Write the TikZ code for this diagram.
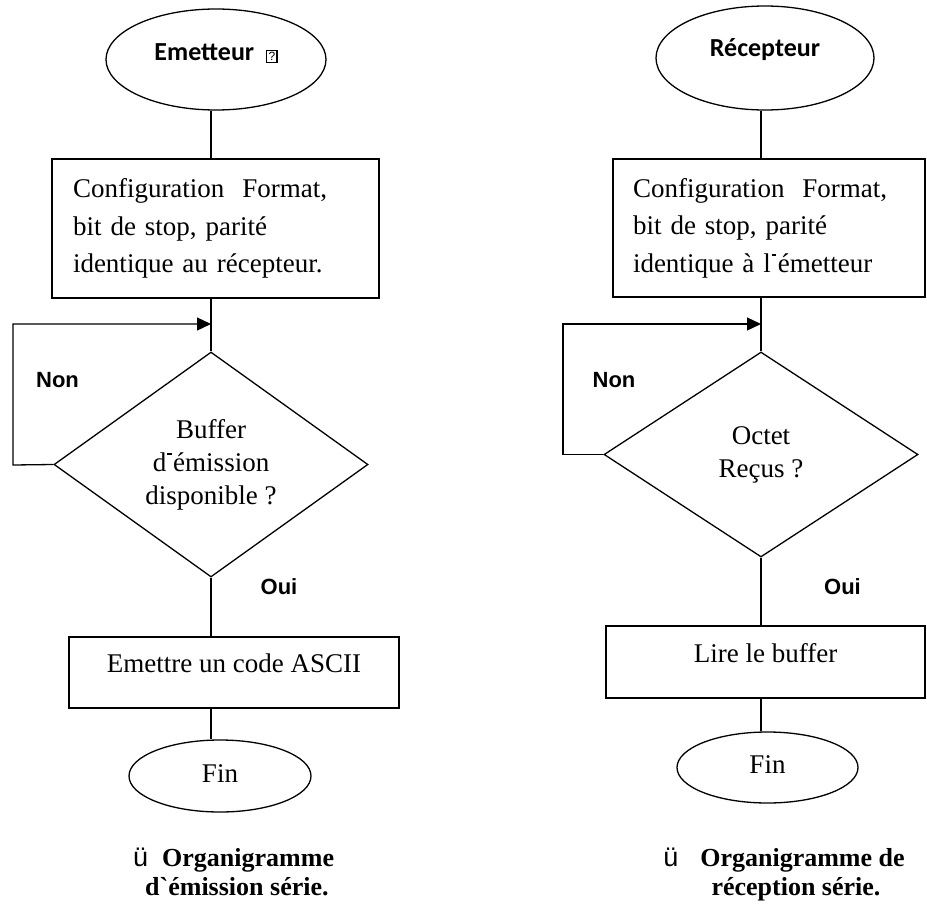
\documentclass[tikz,border=0pt]{standalone}
\usepackage{fontspec}
\setmainfont{Liberation Serif}
\newfontfamily\headfont{Carlito}
\newfontfamily\labfont{Liberation Sans}
\usetikzlibrary{shapes.geometric,arrows.meta}

% small framed question mark after the title
\newcommand\qmarkbox{{\setlength\fboxsep{1.2pt}\setlength\fboxrule{1.1pt}%
  \fbox{\labfont\fontsize{12pt}{12pt}\selectfont\mdseries ?}}}
% short raised stroke used as apostrophe
\newcommand\aposmark{\kern1pt\rule[16pt]{4.5pt}{1.8pt}\kern1.5pt}
% list mark before the captions
\newcommand\capmark{{\labfont\mdseries\fontsize{27pt}{27pt}\selectfont ü}}

\tikzset{
  flow/.style={draw, line width=1.3pt},
  txt/.style={font=\fontsize{27pt}{37.5pt}\selectfont},
  endcap/.style={flow, ellipse, inner sep=0pt},
  title/.style={endcap, font=\headfont\bfseries\fontsize{26pt}{30pt}\selectfont},
  finbox/.style={endcap, txt},
  procbox/.style={flow, rectangle, inner sep=0pt, txt},
  testbox/.style={flow, diamond, inner sep=0pt, txt, align=center,
    font=\fontsize{27pt}{33pt}\selectfont},
  answer/.style={font=\labfont\bfseries\fontsize{22pt}{26pt}\selectfont, inner sep=0pt},
  caption/.style={font=\bfseries\fontsize{26pt}{29pt}\selectfont, inner sep=0pt},
  link/.style={line width=1.3pt},
  loop/.style={line width=1.3pt, -{Triangle[length=14pt,width=13pt]}},
}

\begin{document}
\begin{tikzpicture}[x=1pt,y=-1pt]
\useasboundingbox (0,0) rectangle (927,905);

% ---------------- transmitter flow ----------------
\node[title, minimum width=220pt, minimum height=101pt, text height=18pt, text depth=16pt]
  (eA) at (216,59.5) {Emetteur\hspace{12pt}\qmarkbox};
\node[procbox, minimum width=327pt, minimum height=139pt,
  text width=285pt, align=left] (bA) at (215.5,228.5)
  {Configuration\ \ Format,\\bit de stop, parité\\identique au récepteur.};
\coordinate (jA) at (211,324);
\node[testbox, minimum width=314pt, minimum height=225pt, aspect=1.4] (dA) at (211,464.5)
  {Buffer\\d\aposmark émission\\disponible ?};
\coordinate (kA) at (13,465);
\node[answer] (nA) at (57.5,380) {Non};
\node[answer] (oA) at (279,587) {Oui};
\node[procbox, minimum width=330pt, text height=35pt, text depth=36pt] (bB) at (234,672.5)
  {Emettre un code ASCII};
\node[finbox, minimum width=182pt, minimum height=72pt, text height=18pt, text depth=6pt]
  (fA) at (220,776) {Fin};

\draw[link] (eA.south -| jA) -- (bA.north -| jA);
\draw[link] (bA.south -| jA) -- (dA.north);
\draw[loop] (dA.west) -- (kA) |- (jA);
\draw[link] (dA.south) -- (bB.north -| dA.south);
\draw[link] (bB.south -| dA.south) -- (fA.north -| dA.south);

\node[caption, anchor=north west, align=left] (cA) at (133,848)
  {\capmark\hspace{14pt}Organigramme\\
   \hspace{12pt}d\textasciigrave émission série.};

% ---------------- receiver flow ----------------
\node[title, minimum width=218pt, minimum height=104pt, text height=18pt, text depth=22pt]
  (eR) at (765,58) {Récepteur};
\node[procbox, minimum width=312pt, minimum height=138pt,
  text width=272pt, align=left] (bR) at (769,228)
  {Configuration\ \ Format,\\bit de stop, parité\\identique à l\aposmark émetteur};
\coordinate (jR) at (761,324);
\node[testbox, minimum width=314pt, minimum height=205pt, aspect=1.53] (dR) at (761,454.5)
  {Octet\\Reçus ?};
\coordinate (kR) at (563,454.5);
\node[answer] (nR) at (614,380) {Non};
\node[answer] (oR) at (842.5,587) {Oui};
\node[procbox, minimum width=319pt, text height=36pt, text depth=36pt] (bL) at (765.5,662)
  {Lire le buffer};
\node[finbox, minimum width=181pt, minimum height=71pt, text height=18pt, text depth=7pt]
  (fR) at (767.5,767.5) {Fin};

\draw[link] (eR.south -| jR) -- (bR.north -| jR);
\draw[link] (bR.south -| jR) -- (dR.north);
\draw[loop] (dR.west) -- (kR) |- (jR);
\draw[link] (dR.south) -- (bL.north -| dR.south);
\draw[link] (bL.south -| dR.south) -- (fR.north -| dR.south);

\node[caption, anchor=north, align=center] (cR) at (784,848)
  {\capmark\hspace{22pt}Organigramme de\\
   \hspace{24pt}réception série.};
\end{tikzpicture}
\end{document}
